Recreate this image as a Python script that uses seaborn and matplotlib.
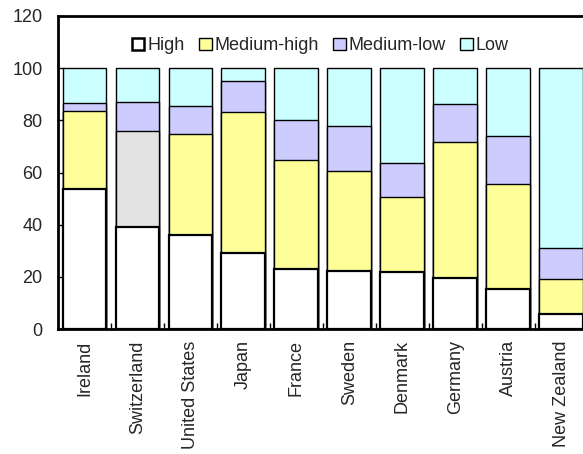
import numpy as np
import pandas as pd
import matplotlib
matplotlib.use("Agg")
import matplotlib.pyplot as plt
from matplotlib.patches import Patch
from matplotlib.ticker import MultipleLocator
import seaborn as sns

# Datos (porcentajes por nivel tecnologico)
countries = ["Ireland", "Switzerland", "United States", "Japan", "France",
             "Sweden", "Denmark", "Germany", "Austria", "New Zealand"]
high = [53.8, 39.2, 36.2, 29.3, 22.9, 22.4, 22.0, 19.6, 15.3, 5.7]
medium_high = [29.9, 36.7, 38.4, 53.8, 41.8, 38.1, 28.7, 52.0, 40.4, 13.5]
medium_low = [2.8, 11.0, 10.8, 11.9, 15.3, 17.2, 13.1, 14.6, 18.3, 11.7]
low = [13.5, 13.1, 14.6, 5.0, 20.0, 22.3, 36.2, 13.8, 26.0, 69.1]

series_names = ["High", "Medium-high", "Medium-low", "Low"]
series_colors = ["#FFFFFF", "#FFFF99", "#CCCCFF", "#CCFFFF"]
swiss_grey = "#E3E3E3"

sns.set_style("white")
plt.rcParams["font.family"] = ["Liberation Sans", "DejaVu Sans"]

df = pd.DataFrame({"country": countries, "High": high, "Medium-high": medium_high,
                   "Medium-low": medium_low, "Low": low})
# alturas acumuladas para apilar
cum = df[series_names].cumsum(axis=1)

fig = plt.figure(figsize=(5.83, 4.54), dpi=100)
ax = fig.add_axes([0.0995, 0.275, 0.909, 0.69])

# se dibuja de arriba hacia abajo para que cada capa tape a la anterior
for i in range(len(series_names) - 1, -1, -1):
    name = series_names[i]
    cols = [series_colors[i]] * len(countries)
    if name == "Medium-high":
        cols[countries.index("Switzerland")] = swiss_grey
    tmp = pd.DataFrame({"country": countries, "value": cum[name]})
    sns.barplot(data=tmp, x="country", y="value", hue="country",
                palette=cols, legend=False, width=0.83, saturation=1,
                edgecolor="black", linewidth=1.6 if name == "High" else 1.0,
                ax=ax)

ax.set_xlim(-0.5, 9.5)
ax.set_ylim(0, 120)
ax.yaxis.set_major_locator(MultipleLocator(20))
ax.set_xlabel("")
ax.set_ylabel("")
ax.set_xticks(range(len(countries)))
ax.set_xticklabels(countries, rotation=90, fontsize=13)
ax.set_xticks(np.arange(0.5, 9.5, 1), minor=True)
ax.tick_params(axis="x", which="major", length=0, pad=8)
ax.tick_params(axis="x", which="minor", direction="in", length=4, width=1, color="black")
ax.tick_params(axis="y", direction="in", length=4, width=1, color="black",
               labelsize=13, pad=11)
ax.yaxis.set_ticks_position("left")
ax.xaxis.set_ticks_position("bottom")

for s in ["left", "bottom", "top", "right"]:
    ax.spines[s].set_color("black")
    ax.spines[s].set_linewidth(2)

handles = [Patch(facecolor=c, edgecolor="black", linewidth=1.8 if k == 0 else 1)
           for k, c in enumerate(series_colors)]
ax.legend(handles, series_names, loc="center", bbox_to_anchor=(0.495, 0.905),
          ncol=4, frameon=False, fontsize=13, handlelength=0.7, handleheight=0.7,
          handletextpad=0.17, columnspacing=0.78, borderaxespad=0, borderpad=0)

fig.savefig("out.png", dpi=100)
